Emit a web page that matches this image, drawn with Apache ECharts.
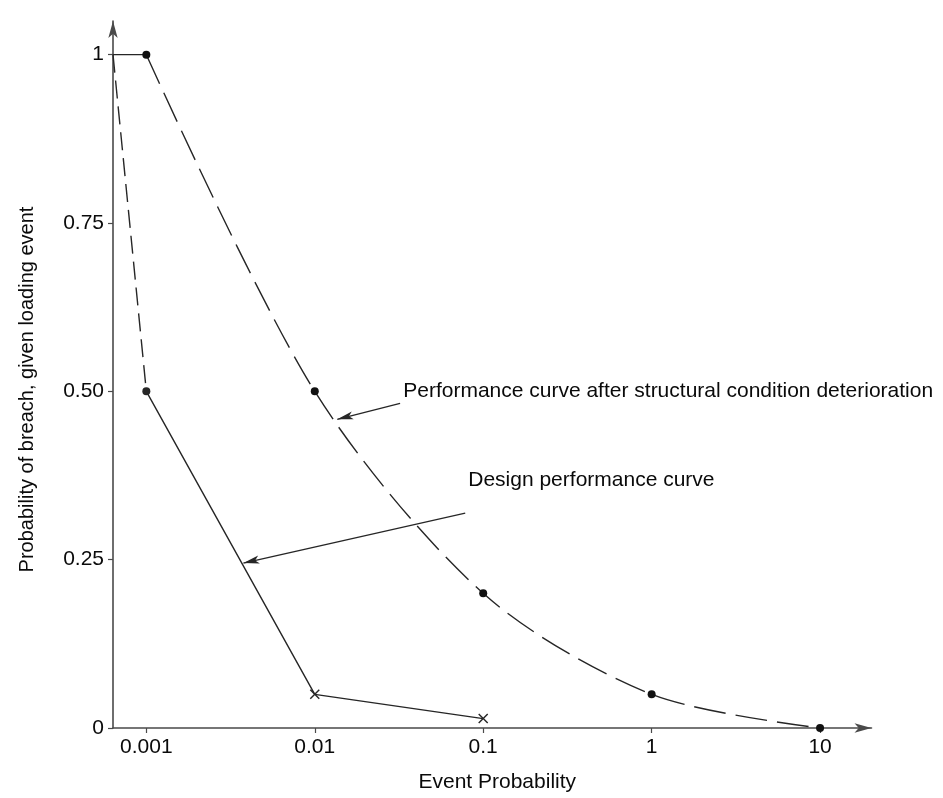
<!DOCTYPE html>
<html>
<head>
<meta charset="utf-8">
<script src="https://cdn.jsdelivr.net/npm/echarts@6/dist/echarts.min.js"></script>
<style>
html,body{margin:0;padding:0;background:#fff;}
#chart{width:943px;height:798px;}
</style>
</head>
<body>
<div id="chart"></div>
<script>
// ---- data ----
const xTickValues = [0.001, 0.01, 0.1, 1, 10];
const xTickLabels = ['0.001', '0.01', '0.1', '1', '10'];
const yTickValues = [0, 0.25, 0.5, 0.75, 1];
const yTickLabels = ['0', '0.25', '0.50', '0.75', '1'];
const xAxisMin = 0.000634;
const xAxisMax = 20.2;

// Design performance curve
const designSolidX = [0.001, 0.01, 0.1];
const designSolidY = [0.5, 0.05, 0.014];
const designSolidMarker = ['dot', 'cross', 'cross'];
const designDashedX = [0.000634, 0.001];
const designDashedY = [1, 0.5];

// Performance curve after structural condition deterioration
const deterFlatX = [0.000634, 0.001];
const deterFlatY = [1, 1];
const deterDashedX = [0.001, 0.01, 0.1, 1, 10];
const deterDashedY = [1, 0.5, 0.2, 0.05, 0];

// annotations (data coordinates)
const annoDeterText = 'Performance curve after structural condition deterioration';
const annoDeterTextAt = [0.0335, 0.5];
const annoDeterArrowFrom = [0.0321, 0.482];
const annoDeterArrowTo = [0.0136, 0.4585];
const annoDesignText = 'Design performance curve';
const annoDesignTextAt = [0.0815, 0.368];
const annoDesignArrowFrom = [0.0782, 0.319];
const annoDesignArrowTo = [0.00377, 0.245];

const xName = 'Event Probability';
const yName = 'Probability of breach, given loading event';

// ---- chart ----
const INK = '#262626';
const AXIS = '#4a4a4a';
const TEXT = '#0a0a0a';
const FONT = 'Liberation Sans, Arial, sans-serif';
const CROSS = 'path://M0,1 L1,0 L5,4 L9,0 L10,1 L6,5 L10,9 L9,10 L5,6 L1,10 L0,9 L4,5 Z';

function zip(xs, ys) { return xs.map((x, i) => [x, ys[i]]); }

const designSolidData = designSolidX.map((x, i) => ({
  value: [x, designSolidY[i]],
  symbol: designSolidMarker[i] === 'cross' ? CROSS : 'circle',
  symbolSize: designSolidMarker[i] === 'cross' ? 10 : 8
}));

const chart = echarts.init(document.getElementById('chart'), null, {renderer: 'canvas'});
chart.setOption({
  animation: false,
  backgroundColor: '#fff',
  grid: {left: 113, right: 71.5, top: 21, bottom: 68},
  xAxis: {
    type: 'log',
    logBase: 10,
    min: xAxisMin,
    max: xAxisMax,
    name: xName,
    nameLocation: 'middle',
    nameGap: 44,
    nameTextStyle: {fontFamily: FONT, fontSize: 21, color: TEXT, padding: [0, 0, 0, 10]},
    axisLine: {show: true, symbol: ['none', 'arrow'], symbolSize: [7, 17], lineStyle: {color: AXIS, width: 1.6}},
    axisTick: {show: true, inside: false, length: 5, customValues: xTickValues, lineStyle: {color: AXIS, width: 1.2}},
    axisLabel: {
      customValues: xTickValues,
      fontFamily: FONT, fontSize: 21, color: TEXT, margin: 9,
      formatter: function (v) {
        for (let i = 0; i < xTickValues.length; i++) {
          if (Math.abs(Math.log10(v) - Math.log10(xTickValues[i])) < 1e-6) return xTickLabels[i];
        }
        return '';
      }
    },
    minorTick: {show: false},
    splitLine: {show: false}
  },
  yAxis: {
    type: 'value',
    min: 0,
    max: 1.05,
    name: yName,
    nameLocation: 'middle',
    nameRotate: 90,
    nameGap: 76,
    nameTextStyle: {fontFamily: FONT, fontSize: 20, color: TEXT, padding: [0, 30, 0, 0]},
    axisLine: {show: true, symbol: ['none', 'arrow'], symbolSize: [7, 17], lineStyle: {color: AXIS, width: 1.6}},
    axisTick: {show: true, inside: false, length: 5, customValues: yTickValues, lineStyle: {color: AXIS, width: 1.2}},
    axisLabel: {
      customValues: yTickValues,
      fontFamily: FONT, fontSize: 21, color: TEXT, margin: 9,
      formatter: function (v) {
        for (let i = 0; i < yTickValues.length; i++) {
          if (Math.abs(v - yTickValues[i]) < 1e-9) return yTickLabels[i];
        }
        return '';
      }
    },
    splitLine: {show: false}
  },
  series: [
    {
      name: 'Design dashed',
      type: 'line',
      data: zip(designDashedX, designDashedY),
      showSymbol: false,
      symbol: 'none',
      lineStyle: {color: INK, width: 1.4, type: [18, 8]},
      silent: true, z: 3
    },
    {
      name: 'Design performance curve',
      type: 'line',
      data: designSolidData,
      showSymbol: true,
      itemStyle: {color: INK},
      lineStyle: {color: INK, width: 1.4},
      silent: true, z: 4,
      markLine: {
        silent: true,
        symbol: ['none', 'arrow'],
        symbolSize: [6, 16],
        label: {show: false},
        lineStyle: {color: INK, width: 1.3, type: 'solid'},
        emphasis: {disabled: true},
        data: [
          [{coord: annoDesignArrowFrom}, {coord: annoDesignArrowTo}],
          [{coord: annoDeterArrowFrom}, {coord: annoDeterArrowTo}]
        ]
      },
      markPoint: {
        silent: true,
        symbol: 'circle',
        symbolSize: 0,
        data: [
          {coord: annoDeterTextAt, label: {formatter: annoDeterText}},
          {coord: annoDesignTextAt, label: {formatter: annoDesignText}}
        ],
        label: {show: true, position: 'right', distance: 0, fontFamily: FONT, fontSize: 21, color: TEXT, align: 'left', verticalAlign: 'middle'}
      }
    },
    {
      name: 'Deterioration flat',
      type: 'line',
      data: zip(deterFlatX, deterFlatY),
      showSymbol: false,
      symbol: 'none',
      lineStyle: {color: INK, width: 1.4},
      silent: true, z: 3
    },
    {
      name: 'Performance curve after structural condition deterioration',
      type: 'line',
      data: zip(deterDashedX, deterDashedY),
      smooth: 0.3,
      showSymbol: true,
      symbol: 'circle',
      symbolSize: 8,
      itemStyle: {color: '#111'},
      lineStyle: {color: INK, width: 1.4, type: [32, 10]},
      silent: true, z: 4
    }
  ]
});
</script>
</body>
</html>
